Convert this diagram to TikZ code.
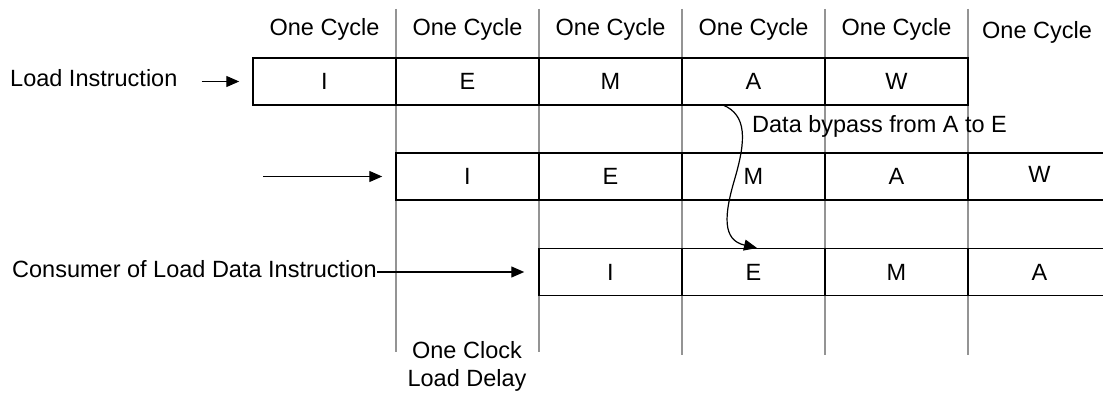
\documentclass[tikz,border=0pt]{standalone}
\usepackage{fontspec}
\setmainfont{Liberation Sans}
\usetikzlibrary{arrows.meta}
\begin{document}
\begin{tikzpicture}[x=1pt,y=-1pt,
  txt/.style={font=\fontsize{23.5}{27}\selectfont, inner sep=0pt},
  cell/.style={txt, draw, line width=1.5pt, minimum width=143pt, minimum height=47pt},
  hdr/.style={txt, anchor=base},
  lbl/.style={txt, anchor=base west},
  grid/.style={draw=black!42, line width=1.2pt},
  arr/.style={line width=1.3pt, -{Triangle[length=13pt,width=11pt]}}]
\useasboundingbox (0,0) rectangle (1103,393);
\clip (0,0) rectangle (1103,393);
% grid lines
\foreach \x/\e in {396/352, 539/352, 682/355, 825/355, 968/355}
  \draw[grid] (\x,9) -- (\x,\e);
% headers
\node[hdr] (h1) at (324.5,35.5) {One Cycle};
\node[hdr] (h2) at (467.5,35.5) {One Cycle};
\node[hdr] (h3) at (610.5,35.5) {One Cycle};
\node[hdr] (h4) at (753.5,35.5) {One Cycle};
\node[hdr] (h5) at (896.5,35.5) {One Cycle};
\node[hdr] (h6) at (1037,39) {One Cycle};
% row 1
\node[cell] (r1c1) at (324.5,81.5) {I};
\node[cell] (r1c2) at (467.5,81.5) {E};
\node[cell] (r1c3) at (610.5,81.5) {M};
\node[cell] (r1c4) at (753.5,81.5) {A};
\node[cell] (r1c5) at (896.5,81.5) {W};
% row 2
\node[cell] (r2c1) at (467.5,176.5) {I};
\node[cell] (r2c2) at (610.5,176.5) {E};
\node[cell] (r2c3) at (753.5,176.5) {M};
\node[cell] (r2c4) at (896.5,176.5) {A};
\node[cell] (r2c5) at (1039.5,176.5) {\raisebox{4pt}{W}};
% row 3
\node[cell] (r3c1) at (610.5,272) {I};
\node[cell] (r3c2) at (753.5,272) {E};
\node[cell] (r3c3) at (896.5,272) {M};
\node[cell] (r3c4) at (1039.5,272) {A};
% labels
\node[lbl] (li) at (10,87) {Load Instruction};
\node[lbl] (cons) at (12,277) {Consumer of Load Data Instruction};
\node[lbl] (byp) at (752,133) {Data bypass from A to E};
\node[hdr] (delay1) at (467,358) {One Clock};
\node[hdr] (delay2) at (467,386) {Load Delay};
% arrows
\coordinate (lia) at ([xshift=24pt]li.east |- r1c1.west);
\coordinate (consa) at (cons.east |- r3c1.west);
\coordinate (r2start) at (263,176.5);
\draw[arr, shorten >=13pt] (lia) -- (r1c1.west);
\draw[arr, shorten >=13pt] (r2start) -- (r2c1.west);
\draw[arr, shorten >=14pt] (consa) -- (r3c1.west);
% bypass
\coordinate (bypA) at (723,105);
\coordinate (bypE) at (757,248);
\draw[arr, line width=1.2pt] (bypA) .. controls (747,115) and (746,140) .. (735,178)
  .. controls (724,215) and (722,240) .. (bypE);
\end{tikzpicture}
\end{document}
